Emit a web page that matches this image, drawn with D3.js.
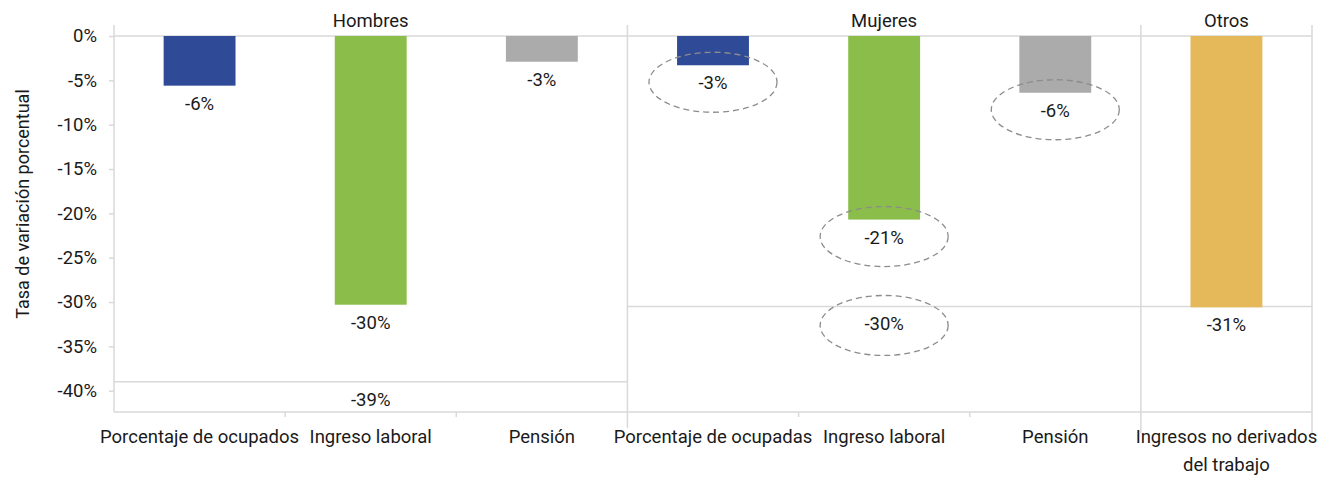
<!DOCTYPE html>
<html>
<head>
<meta charset="utf-8">
<script src="https://cdn.jsdelivr.net/npm/d3@7"></script>
<style>
  body { margin: 0; background: #fff; }
  svg text { font-family: Roboto, "Liberation Sans", sans-serif; fill: #1a1a1a; }
</style>
</head>
<body>
<div id="chart"></div>
<script>
// Tasa de variación porcentual por grupo

const categories = ["Porcentaje de ocupados", "Ingreso laboral", "Pensión",
    "Porcentaje de ocupadas", "Ingreso laboral", "Pensión",
    "Ingresos no derivados\ndel trabajo"];
const kinds = ["ocupacion", "laboral", "pension", "ocupacion", "laboral", "pension", "otros"];
const values = [-5.6, -30.3, -2.9, -3.3, -20.7, -6.4, -30.6];
const highlighted = [3, 4, 5];

const groups = ["Hombres", "Mujeres", "Otros"];
const groupStart = [0, 3, 6];
const groupEnd = [3, 6, 7];

const totals = [-39.0, -30.5];
const totalStart = [0, 3];
const totalEnd = [3, 7];
const totalLabelAt = [1, 4];
const totalHighlighted = [false, true];

const yTicks = [0, -5, -10, -15, -20, -25, -30, -35, -40];

const width = 1322;
const height = 479;
const margin = {top: 36, right: 10, bottom: 67, left: 114};
const plotRight = 1312;
const fontSize = "18.5px";

const svg = d3.select("#chart")
    .append("svg")
    .attr("width", width)
    .attr("height", height);

const idx = d3.range(categories.length);

const xScale = d3.scaleBand()
    .domain(idx)
    .range([margin.left, plotRight])
    .padding(0);

const yScale = d3.scaleLinear()
    .domain([-42.4, 0])
    .range([height - margin.bottom, margin.top]);

const color = d3.scaleOrdinal()
    .domain(["ocupacion", "laboral", "pension", "otros"])
    .range(["#2f4b98", "#8bbd4a", "#ababab", "#e5b95a"]);

const fmt = v => Math.round(v) + "%";
const grid = "#d9d9d9";
const xAt = i => i >= categories.length ? plotRight : xScale(i);
const bottomY = yScale(-42.4);

// y axis
const yAxis = d3.axisLeft(yScale)
    .tickValues(yTicks)
    .tickSize(5)
    .tickPadding(12)
    .tickFormat(d => d + "%");

const gy = svg.append("g")
    .attr("transform", `translate(${margin.left},0)`)
    .call(yAxis);
gy.select(".domain").remove();
gy.selectAll(".tick line").attr("stroke", grid).attr("stroke-width", 1.5);
gy.selectAll(".tick text").style("font-size", fontSize);

svg.append("text")
    .attr("transform", "rotate(-90)")
    .attr("x", -204)
    .attr("y", 29)
    .attr("text-anchor", "middle")
    .style("font-size", "18px")
    .text("Tasa de variación porcentual");

// frame lines
svg.append("line")
    .attr("x1", margin.left).attr("x2", margin.left)
    .attr("y1", 25).attr("y2", bottomY)
    .attr("stroke", grid).attr("stroke-width", 1.5);

svg.selectAll(".sep")
    .data([3, 6, 7])
    .join("line")
    .attr("class", "sep")
    .attr("x1", d => xAt(d)).attr("x2", d => xAt(d))
    .attr("y1", 25).attr("y2", d => d === 3 ? 428 : 433)
    .attr("stroke", grid).attr("stroke-width", 1.5);

svg.append("line")
    .attr("x1", margin.left).attr("x2", plotRight)
    .attr("y1", yScale(0)).attr("y2", yScale(0))
    .attr("stroke", grid).attr("stroke-width", 1.5);

svg.append("line")
    .attr("x1", margin.left).attr("x2", plotRight)
    .attr("y1", bottomY).attr("y2", bottomY)
    .attr("stroke", grid).attr("stroke-width", 1.5);

// category boundary ticks
svg.selectAll(".xtick")
    .data([1, 2, 4, 5])
    .join("line")
    .attr("class", "xtick")
    .attr("x1", d => xAt(d)).attr("x2", d => xAt(d))
    .attr("y1", bottomY).attr("y2", bottomY + 5)
    .attr("stroke", grid).attr("stroke-width", 1.5);

// category labels
svg.selectAll(".cat")
    .data(idx)
    .join("text")
    .attr("class", "cat")
    .attr("text-anchor", "middle")
    .style("font-size", fontSize)
    .attr("x", i => xScale(i) + xScale.bandwidth() / 2)
    .attr("y", 443)
    .selectAll("tspan")
    .data(i => categories[i].split("\n").map(t => ({t, i})))
    .join("tspan")
    .attr("x", d => xScale(d.i) + xScale.bandwidth() / 2)
    .attr("dy", (d, k) => k === 0 ? 0 : 28)
    .text(d => d.t);

// group titles
svg.selectAll(".grp")
    .data(groups)
    .join("text")
    .attr("class", "grp")
    .attr("text-anchor", "middle")
    .style("font-size", fontSize)
    .attr("x", (d, g) => (xAt(groupStart[g]) + xAt(groupEnd[g])) / 2)
    .attr("y", 27)
    .text(d => d);

// total reference lines
svg.selectAll(".total")
    .data(totals)
    .join("line")
    .attr("class", "total")
    .attr("x1", (d, k) => xAt(totalStart[k]))
    .attr("x2", (d, k) => xAt(totalEnd[k]))
    .attr("y1", d => yScale(d)).attr("y2", d => yScale(d))
    .attr("stroke", grid).attr("stroke-width", 1.5);

// bars
const barW = xScale.bandwidth() * 0.42;
svg.selectAll(".bar")
    .data(idx)
    .join("rect")
    .attr("class", "bar")
    .attr("x", i => xScale(i) + (xScale.bandwidth() - barW) / 2)
    .attr("y", yScale(0))
    .attr("width", barW)
    .attr("height", i => yScale(values[i]) - yScale(0))
    .attr("fill", i => color(kinds[i]));

// value labels
svg.selectAll(".val")
    .data(idx)
    .join("text")
    .attr("class", "val")
    .attr("text-anchor", "middle")
    .style("font-size", fontSize)
    .attr("x", i => xScale(i) + xScale.bandwidth() / 2)
    .attr("y", i => yScale(values[i]) + 24)
    .text(i => fmt(values[i]));

svg.selectAll(".totval")
    .data(totals)
    .join("text")
    .attr("class", "totval")
    .attr("text-anchor", "middle")
    .style("font-size", fontSize)
    .attr("x", (d, k) => xScale(totalLabelAt[k]) + xScale.bandwidth() / 2)
    .attr("y", d => yScale(d) + 24)
    .text(d => fmt(d));

// dashed ellipses around Mujeres values
const ellipses = highlighted.map(i => ({x: xScale(i) + xScale.bandwidth() / 2, y: yScale(values[i]) + 17}))
    .concat(totals.map((d, k) => ({k, d})).filter(o => totalHighlighted[o.k])
        .map(o => ({x: xScale(totalLabelAt[o.k]) + xScale.bandwidth() / 2, y: yScale(o.d) + 19})));

svg.selectAll(".ring")
    .data(ellipses)
    .join("ellipse")
    .attr("class", "ring")
    .attr("cx", d => d.x)
    .attr("cy", d => d.y)
    .attr("rx", 64)
    .attr("ry", 30)
    .attr("fill", "none")
    .attr("stroke", "#8c8c8c")
    .attr("stroke-width", 1.3)
    .attr("stroke-dasharray", "6,4");
</script>
</body>
</html>
